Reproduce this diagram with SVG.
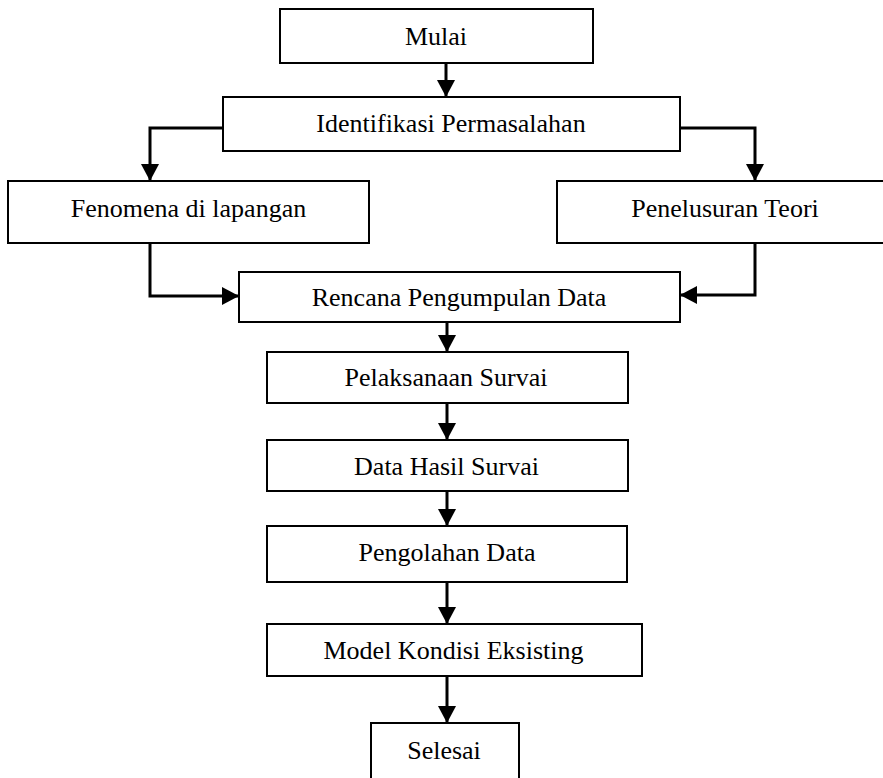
<svg xmlns="http://www.w3.org/2000/svg" width="883" height="778" viewBox="0 0 883 778">
<style>
.box{fill:#fff;stroke:#000;stroke-width:2}
.lbl{font-family:"Liberation Serif","Times New Roman",serif;font-size:26px;fill:#000;text-anchor:middle}
.con{fill:none;stroke:#000;stroke-width:3;marker-end:url(#ah)}
</style>
<defs>
<marker id="ah" markerUnits="userSpaceOnUse" markerWidth="18" markerHeight="18" viewBox="0 0 18 18" refX="17" refY="9" orient="auto">
<path d="M0,0 L17,9 L0,18 Z" fill="#000"/>
</marker>
</defs>
<rect width="883" height="778" fill="#fff"/>
<g id="connectors">
<path class="con" d="M446,63 L446,97"/>
<path class="con" d="M223,128 L150,128 L150,181"/>
<path class="con" d="M680,128 L755,128 L755,181"/>
<path class="con" d="M150,243 L150,296 L239,296"/>
<path class="con" d="M755,243 L755,295 L680,295"/>
<path class="con" d="M447,322 L447,352"/>
<path class="con" d="M447,403 L447,440"/>
<path class="con" d="M447,491 L447,526"/>
<path class="con" d="M447,582 L447,624"/>
<path class="con" d="M447,676 L447,723"/>
</g>
<g id="mulai"><rect class="box" x="280" y="9" width="313" height="54"/><text class="lbl" x="436" y="45">Mulai</text></g>
<g id="identifikasi"><rect class="box" x="223" y="97" width="457" height="54"/><text class="lbl" x="451" y="132">Identifikasi Permasalahan</text></g>
<g id="fenomena"><rect class="box" x="8" y="181" width="361" height="62"/><text class="lbl" x="188.5" y="217">Fenomena di lapangan</text></g>
<g id="penelusuran"><rect class="box" x="557" y="181" width="340" height="62"/><text class="lbl" x="725" y="217">Penelusuran Teori</text></g>
<g id="rencana"><rect class="box" x="239" y="272" width="441" height="50"/><text class="lbl" x="459" y="306">Rencana Pengumpulan Data</text></g>
<g id="pelaksanaan"><rect class="box" x="267" y="352" width="361" height="51"/><text class="lbl" x="446" y="386">Pelaksanaan Survai</text></g>
<g id="datahasil"><rect class="box" x="267" y="440" width="361" height="51"/><text class="lbl" x="446.5" y="475">Data Hasil Survai</text></g>
<g id="pengolahan"><rect class="box" x="267" y="526" width="360" height="56"/><text class="lbl" x="447" y="561">Pengolahan Data</text></g>
<g id="model"><rect class="box" x="267" y="624" width="375" height="52"/><text class="lbl" x="453.5" y="659">Model Kondisi Eksisting</text></g>
<g id="selesai"><rect class="box" x="371" y="723" width="148" height="70"/><text class="lbl" x="444" y="759">Selesai</text></g>
</svg>
